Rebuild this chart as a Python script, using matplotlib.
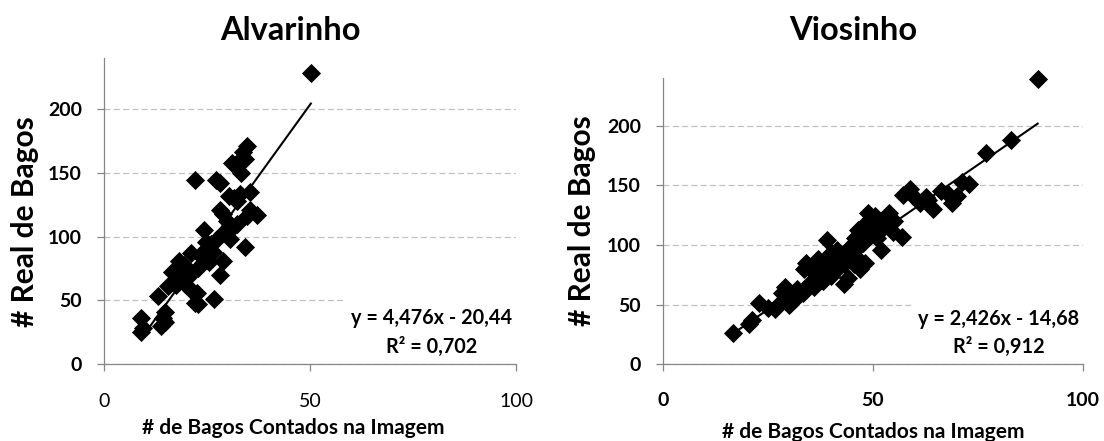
import matplotlib
matplotlib.use("Agg")
import matplotlib.pyplot as plt
from matplotlib.patches import Rectangle
import numpy as np

plt.rcParams['font.family'] = ['Lato', 'DejaVu Sans']
plt.rcParams['lines.scale_dashes'] = False

# ---------------- data ----------------
titles = ["Alvarinho", "Viosinho"]
x_label = "# de Bagos Contados na Imagem"
y_label = "# Real de Bagos"
x_ticks = [0, 50, 100]
y_ticks = [0, 50, 100, 150, 200]

alv_x = [50.2, 34.6, 33.8, 34.2, 32.0, 31.0, 33.3, 22.1, 27.2, 28.1,
         35.5, 30.3, 31.6, 32.4, 33.0, 28.1, 29.0, 35.5, 37.2, 34.6,
         24.2, 29.8, 31.1, 32.2, 29.0, 34.2, 24.7, 26.0, 27.5, 24.7,
         21.2, 18.2, 29.0, 19.5, 28.1, 22.9, 16.4, 18.2, 20.5, 15.6,
         17.5, 19.9, 21.2, 22.5, 26.8, 22.1, 22.9, 13.0, 14.7, 14.3,
         14.8, 13.8, 9.1, 9.1, 9.5, 25.5, 23.5, 26.5, 20.0, 30.5]
alv_y = [228, 171, 166, 161, 157, 158, 150, 144, 144, 142,
         135, 132, 130, 128, 133, 121, 118, 121, 117, 116,
         105, 112, 107, 110, 103, 92, 96, 94, 98, 90,
         87, 81, 81, 78, 70, 75, 72, 67, 68, 61,
         62, 62, 58, 56, 51, 48, 47, 53, 41, 36,
         33, 30, 36, 25, 28, 80, 85, 88, 72, 98]

vio_x = [89.2, 82.9, 77.0, 72.9, 71.2, 70.0, 68.7, 67.9, 66.3, 64.2,
         63.0, 61.3, 62.5, 58.8, 57.2, 59.5, 56.8, 54.7, 53.9, 52.2,
         51.8, 48.9, 50.5, 48.1, 47.3, 46.5, 48.1, 45.6, 44.8, 43.6,
         42.7, 43.2, 44.0, 39.0, 39.9, 38.2, 37.0, 35.7, 34.1, 33.5,
         34.9, 33.3, 32.0, 30.0, 29.1, 28.3, 26.7, 27.5, 22.9, 21.3,
         20.5, 16.7, 36.5, 37.5, 38.5, 40.5, 41.0, 41.5, 42.0, 43.0,
         44.5, 45.0, 46.0, 46.5, 47.5, 49.5, 50.5, 51.0, 52.5, 53.0,
         55.0, 40.0, 38.0, 36.0, 31.5, 29.5, 25.0, 41.5, 45.5, 47.0]
vio_y = [239, 188, 177, 151, 153, 141, 135, 143, 145, 130,
         138, 135, 140, 147, 142, 141, 107, 111, 127, 121,
         96, 127, 124, 118, 110, 113, 85, 106, 99, 93,
         88, 67, 72, 104, 93, 85, 88, 78, 85, 80,
         68, 60, 63, 50, 65, 60, 46, 50, 51, 37,
         34, 26, 75, 80, 78, 82, 88, 80, 92, 84,
         88, 94, 90, 98, 102, 108, 114, 106, 115, 118,
         120, 74, 70, 65, 55, 57, 47, 96, 84, 80]

alv_slope, alv_intercept, alv_r2 = 4.476, -20.44, 0.702
vio_slope, vio_intercept, vio_r2 = 2.426, -14.68, 0.912

# ---------------- figure ----------------
W, H = 1104, 441
fig = plt.figure(figsize=(W / 100, H / 100), dpi=100)

def px(x, y):
    return x / W, 1 - y / H

axes_boxes = [
    (104, 58, 516, 364),
    (663, 78, 1083, 364.3),
]
datasets = [(alv_x, alv_y, alv_slope, alv_intercept, alv_r2),
            (vio_x, vio_y, vio_slope, vio_intercept, vio_r2)]
title_pos = [(290, 31), (853, 30)]
ylabel_pos = [(25, 222), (582, 221)]
xlabel_pos = [(293, 428), (873, 432)]
eq_pos = [(432, 318, 347), (999, 319, 347)]
box_x0 = [58.2, 59.1]
xtick_bold = [False, True]
xtick_pad = [16, 15]

grid_color = '#c0c0c0'
axis_color = '#868686'

for i, (x0, y0, x1, y1) in enumerate(axes_boxes):
    ax = fig.add_axes([x0 / W, 1 - y1 / H, (x1 - x0) / W, (y1 - y0) / H])
    xs, ys, slope, intercept, r2 = datasets[i]
    ax.set_xlim(0, 100)
    ax.set_ylim(0, 240)
    ax.set_xticks(x_ticks)
    ax.set_yticks(y_ticks)
    ax.set_axisbelow(True)
    ax.yaxis.grid(True, color=grid_color, lw=0.9, dashes=(4.3, 2.4))
    ax.xaxis.grid(False)
    for s in ['top', 'right']:
        ax.spines[s].set_visible(False)
    for s in ['left', 'bottom']:
        ax.spines[s].set_color(axis_color)
        ax.spines[s].set_linewidth(0.9)
    ax.tick_params(axis='y', direction='out', length=5, width=0.9,
                   color=axis_color, pad=11, labelsize=14)
    ax.tick_params(axis='x', direction='out', length=5, width=0.9,
                   color=axis_color, pad=xtick_pad[i], labelsize=14)
    for lab in ax.get_yticklabels():
        lab.set_fontweight('bold')
    for lab in ax.get_xticklabels():
        lab.set_fontweight('bold' if xtick_bold[i] else 'normal')

    # white label box hiding gridlines
    ax.add_patch(Rectangle((box_x0[i], 5), 100 - box_x0[i], 58,
                           facecolor='white', edgecolor='none', zorder=1))

    ax.scatter(xs, ys, marker='D', s=95, color='black', zorder=2,
               linewidths=0, clip_on=False)
    xr = np.array([min(xs), max(xs)])
    ax.plot(xr, slope * xr + intercept, color='black', lw=1.5, zorder=3)

    # texts
    tx, ty = px(*title_pos[i])
    fig.text(tx, ty, titles[i], ha='center', va='center',
             fontsize=23.5, fontweight='bold')
    lx, ly = px(*ylabel_pos[i])
    fig.text(lx, ly, y_label, ha='center', va='center', rotation=90,
             fontsize=21.5, fontweight='bold')
    xlx, xly = px(*xlabel_pos[i])
    fig.text(xlx, xly, x_label, ha='center', va='center',
             fontsize=15, fontweight='bold')
    ex, ey1, ey2 = eq_pos[i]
    sign = '-' if intercept < 0 else '+'
    eq = f"y = {slope:.3f}x {sign} {abs(intercept):.2f}".replace('.', ',')
    r2s = f"R² = {r2:.3f}".replace('.', ',')
    fig.text(*px(ex, ey1), eq, ha='center', va='center',
             fontsize=14.3, fontweight='bold')
    fig.text(*px(ex, ey2), r2s, ha='center', va='center',
             fontsize=14.3, fontweight='bold')

fig.savefig("out.png", dpi=100)
